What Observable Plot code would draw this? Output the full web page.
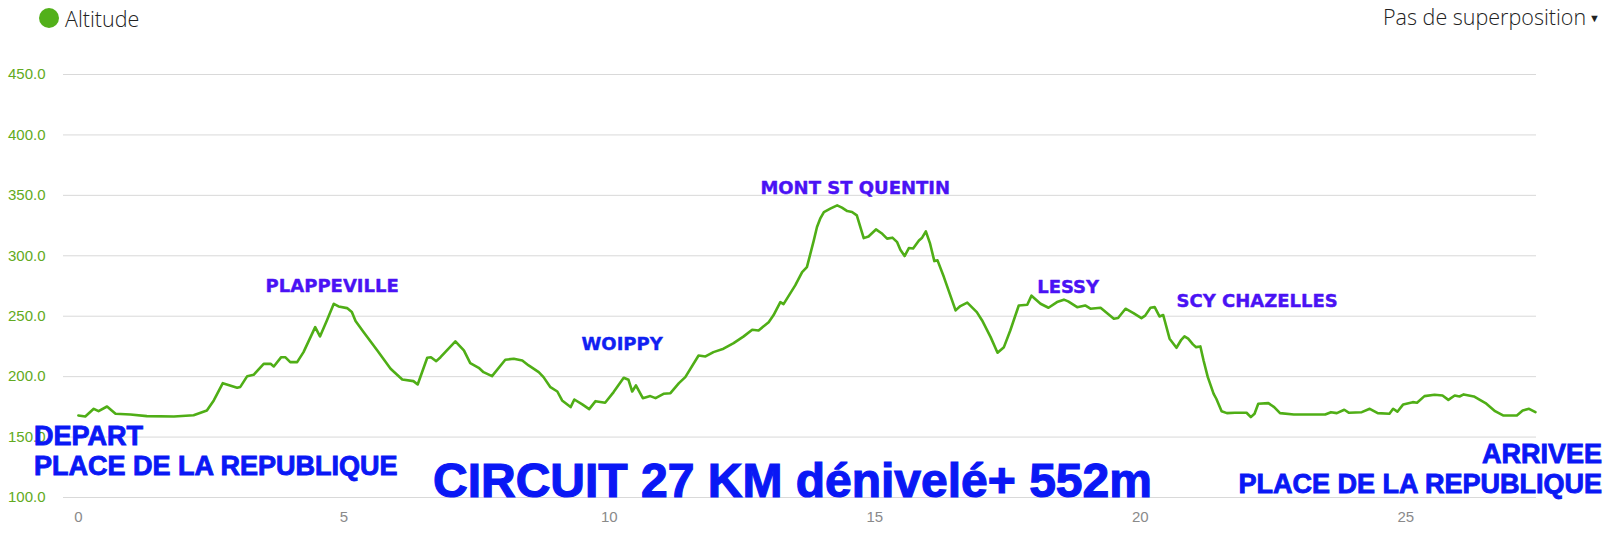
<!DOCTYPE html>
<html>
<head>
<meta charset="utf-8">
<script src="https://cdn.jsdelivr.net/npm/d3@7"></script>
<script src="https://cdn.jsdelivr.net/npm/@observablehq/plot@0.6"></script>
<style>
  html, body { margin: 0; padding: 0; background: #fff; }
  #wrap { position: relative; width: 1613px; height: 539px; overflow: hidden; background: #fff; }
  .ov { position: absolute; white-space: nowrap; }
  .legend-dot { position: absolute; left: 39px; top: 8px; width: 20px; height: 20px; border-radius: 50%; background: #52b01a; }
  .hdr { font-family: "Open Sans", sans-serif; font-weight: 300; font-size: 21.5px; line-height: 21.5px; color: #222; }
  .big { font-family: "Liberation Sans", Arial, sans-serif; font-weight: bold; color: #0a18f5; font-size: 27px; line-height: 27px; -webkit-text-stroke: 0.9px #0a18f5; }
  .title { font-family: "Liberation Sans", Arial, sans-serif; font-weight: bold; color: #0a18f5; font-size: 48px; line-height: 48px; -webkit-text-stroke: 1.2px #0a18f5; }
  .tri { font-family: "DejaVu Sans", sans-serif; font-size: 11px; position: relative; top: -3px; margin-left: 3px; }
</style>
</head>
<body>
<div id="wrap"></div>
<script>
// Distance (km) along the route and altitude (m)
const km = [0.00,0.13,0.29,0.38,0.54,0.70,0.98,1.29,1.80,2.17,2.42,2.55,2.72,2.99,3.05,3.18,3.30,3.49,3.62,3.68,3.82,3.90,3.99,4.12,4.24,4.46,4.55,4.68,4.81,4.90,5.06,5.15,5.22,5.37,5.63,5.88,6.10,6.31,6.39,6.57,6.64,6.74,6.82,7.10,7.26,7.38,7.54,7.63,7.79,8.04,8.20,8.36,8.48,8.67,8.76,8.89,9.02,9.11,9.27,9.34,9.49,9.62,9.74,9.92,10.08,10.27,10.36,10.43,10.50,10.63,10.77,10.87,11.02,11.15,11.31,11.43,11.68,11.81,11.96,12.15,12.34,12.53,12.69,12.81,13.00,13.09,13.22,13.28,13.50,13.63,13.72,13.85,13.91,13.97,14.04,14.16,14.29,14.38,14.48,14.57,14.66,14.79,14.88,15.02,15.14,15.23,15.33,15.42,15.48,15.56,15.64,15.72,15.83,15.89,15.96,16.04,16.12,16.18,16.30,16.52,16.61,16.74,16.92,17.02,17.18,17.31,17.43,17.55,17.71,17.87,17.95,18.12,18.27,18.43,18.56,18.64,18.81,18.96,19.06,19.25,19.37,19.50,19.58,19.72,19.87,20.02,20.09,20.19,20.27,20.36,20.43,20.55,20.68,20.77,20.83,20.90,20.99,21.05,21.13,21.19,21.27,21.38,21.43,21.53,21.63,21.78,22.00,22.08,22.15,22.22,22.41,22.52,22.63,22.89,23.26,23.48,23.59,23.70,23.84,23.93,24.17,24.32,24.47,24.69,24.76,24.84,24.95,25.13,25.21,25.35,25.54,25.69,25.80,25.92,26.01,26.09,26.28,26.50,26.68,26.83,27.09,27.20,27.32,27.44];
const altitude = [167.9,167.0,173.4,171.4,175.3,169.3,168.7,167.3,167.0,168.1,172.0,180.3,194.6,190.8,191.5,200.4,201.5,210.6,210.6,208.4,216.1,216.0,212.0,212.0,220.3,241.0,233.3,246.5,260.3,258.1,256.7,253.4,246.0,236.9,221.7,206.5,197.7,196.3,193.5,215.6,216.1,212.8,216.1,229.1,221.7,211.2,207.3,203.7,200.4,214.0,214.8,213.4,209.3,203.7,199.6,191.3,187.7,180.3,174.8,181.1,177.0,173.1,179.7,178.4,187.2,199.1,197.4,187.7,192.7,182.2,183.9,182.2,185.8,186.3,194.6,199.6,217.5,216.7,220.3,223.1,227.7,233.3,238.8,238.2,245.1,250.7,261.7,260.0,275.5,286.5,290.6,312.7,323.8,330.7,336.2,339.0,341.7,339.8,337.0,336.2,333.4,314.6,316.0,321.8,318.2,314.2,315.0,311.3,305.0,299.8,306.4,306.0,312.7,315.0,320.2,310.0,295.6,296.2,282.4,254.8,258.4,261.2,253.4,246.5,232.7,219.8,224.4,238.2,258.9,259.5,267.0,260.3,257.0,261.7,263.7,262.3,257.5,258.9,256.2,257.0,252.6,247.9,248.5,256.2,252.6,248.4,250.5,257.0,257.5,249.8,251.0,231.4,223.9,230.5,233.3,231.4,226.7,224.4,225.0,213.4,199.6,185.8,181.7,171.4,169.8,170.1,170.1,166.5,169.3,177.6,178.1,174.8,169.8,168.7,168.7,168.7,170.6,169.8,172.6,170.1,170.6,173.4,169.8,169.3,173.4,171.0,177.0,178.9,178.4,183.9,185.0,184.4,180.8,184.4,183.6,185.3,183.6,178.1,171.4,167.9,167.9,172.0,173.4,170.6];

// Place-name annotations (anchored in data space: km, altitude)
const placeNames = ["PLAPPEVILLE", "MONT ST QUENTIN", "LESSY", "SCY CHAZELLES"];
const placeKm = [4.78, 14.63, 18.64, 22.20];
const placeAlt = [275.0, 356.0, 274.3, 262.8];
const woippyName = ["WOIPPY"];
const woippyKm = [10.24];
const woippyAlt = [226.8];

const xTicks = [0, 5, 10, 15, 20, 25];
const yTicks = [100, 150, 200, 250, 300, 350, 400, 450];

const legendLabel = "Altitude";
const menuLabel = "Pas de superposition";
const startLabel = ["DEPART", "PLACE DE LA REPUBLIQUE"];
const endLabel = ["ARRIVEE", "PLACE DE LA REPUBLIQUE"];
const titleLabel = "CIRCUIT 27 KM dénivelé+ 552m";

const profile = km.map((k, i) => ({km: k, alt: altitude[i]}));
const places = placeNames.map((n, i) => ({name: n, km: placeKm[i], alt: placeAlt[i]}));
const woippy = woippyName.map((n, i) => ({name: n, km: woippyKm[i], alt: woippyAlt[i]}));

const GREEN = "#4fae16";

const chart = Plot.plot({
  width: 1613,
  height: 539,
  marginTop: 74,
  marginBottom: 42,
  marginLeft: 63,
  marginRight: 77,
  style: {background: "#fff", fontFamily: "'Liberation Sans', Arial, sans-serif"},
  x: {domain: [-0.28, 27.46], label: null},
  y: {domain: [100, 450], label: null},
  marks: [
    Plot.gridY(yTicks, {stroke: "#d9d9d9", strokeOpacity: 1, strokeWidth: 1}),
    Plot.axisY(yTicks, {tickSize: 0, tickPadding: 18, tickFormat: d => d.toFixed(1), fill: "#62aa22", fontSize: 15, label: null}),
    Plot.axisX(xTicks, {tickSize: 0, tickPadding: 14, fill: "#8a8a8a", fontSize: 15, label: null}),
    Plot.line(profile, {x: "km", y: "alt", stroke: GREEN, strokeWidth: 2.6, strokeLinejoin: "round"}),
    Plot.text(places, {x: "km", y: "alt", text: "name", fill: "#4a12f4", stroke: "#4a12f4", strokeWidth: 0.4, fontSize: 18, fontWeight: "bold", fontFamily: "DejaVu Sans, sans-serif"}),
    Plot.text(woippy, {x: "km", y: "alt", text: "name", fill: "#1020f2", stroke: "#1020f2", strokeWidth: 0.4, fontSize: 18, fontWeight: "bold", fontFamily: "DejaVu Sans, sans-serif"})
  ]
});

const wrap = document.getElementById("wrap");
wrap.appendChild(chart);

function addDiv(cls, text, css) {
  const d = document.createElement("div");
  d.className = "ov " + cls;
  d.textContent = text;
  Object.assign(d.style, css);
  wrap.appendChild(d);
  return d;
}

const dot = document.createElement("div");
dot.className = "legend-dot";
wrap.appendChild(dot);
addDiv("hdr", legendLabel, {left: "65px", top: "8px"});
const menu = addDiv("hdr", menuLabel, {right: "13px", top: "6px"});
const tri = document.createElement("span");
tri.className = "tri";
tri.textContent = "▼";
menu.appendChild(tri);

addDiv("big", startLabel[0], {left: "34px", top: "423px"});
addDiv("big", startLabel[1], {left: "34px", top: "453px"});
addDiv("big", endLabel[0], {right: "11px", top: "441px", textAlign: "right"});
addDiv("big", endLabel[1], {right: "11px", top: "471px", textAlign: "right"});
addDiv("title", titleLabel, {left: "433px", top: "457px"});
</script>
</body>
</html>
